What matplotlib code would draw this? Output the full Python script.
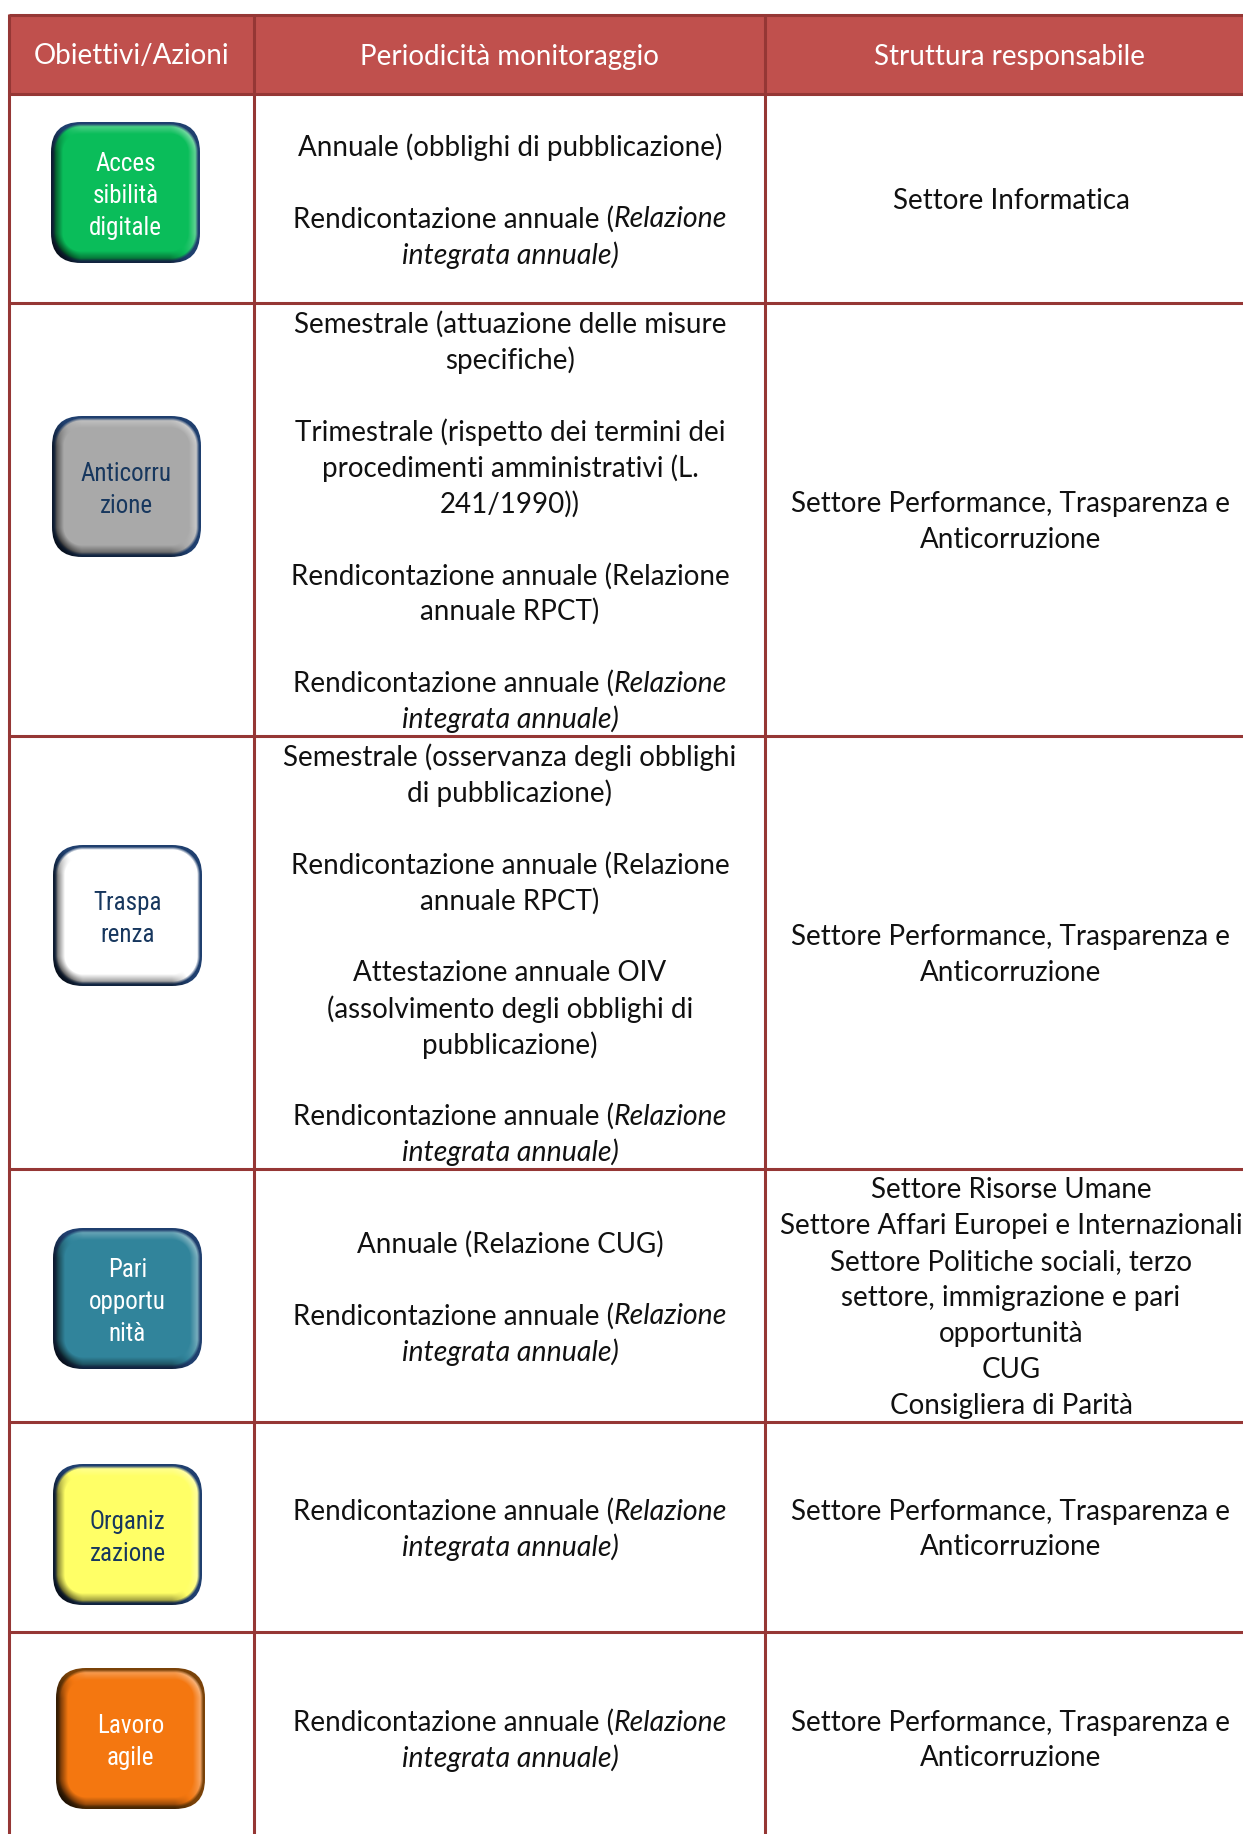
import numpy as np
import matplotlib
matplotlib.use('Agg')
import matplotlib.pyplot as plt
from matplotlib import font_manager
from matplotlib.patches import FancyBboxPatch, Rectangle
from matplotlib.colors import to_rgb

W, H = 1243, 1834
BORDER = '#953735'
HEADER = '#C0504D'
BODY_FONT = 'Lato'
BODY_SIZE = 20.0
ITALIC_SIZE = 20.5

headers = ['Obiettivi/Azioni', 'Periodicità monitoraggio', 'Struttura responsabile']

# *...* marks the italic part of a line
periods = [
    ['Annuale (obblighi di pubblicazione)', '', 'Rendicontazione annuale (*Relazione*', '*integrata annuale)*'],
    ['Semestrale (attuazione delle misure', 'specifiche)', '',
     'Trimestrale (rispetto dei termini dei', 'procedimenti amministrativi (L.', '241/1990))', '',
     'Rendicontazione annuale (Relazione', 'annuale RPCT)', '',
     'Rendicontazione annuale (*Relazione*', '*integrata annuale)*'],
    ['Semestrale (osservanza degli obblighi', 'di pubblicazione)', '',
     'Rendicontazione annuale (Relazione', 'annuale RPCT)', '',
     'Attestazione annuale OIV', '(assolvimento degli obblighi di', 'pubblicazione)', '',
     'Rendicontazione annuale (*Relazione*', '*integrata annuale)*'],
    ['Annuale (Relazione CUG)', '', 'Rendicontazione annuale (*Relazione*', '*integrata annuale)*'],
    ['Rendicontazione annuale (*Relazione*', '*integrata annuale)*'],
    ['Rendicontazione annuale (*Relazione*', '*integrata annuale)*'],
]
owners = [
    ['Settore Informatica'],
    ['Settore Performance, Trasparenza e', 'Anticorruzione'],
    ['Settore Performance, Trasparenza e', 'Anticorruzione'],
    ['Settore Risorse Umane', 'Settore Affari Europei e Internazionali', 'Settore Politiche sociali, terzo',
     'settore, immigrazione e pari', 'opportunità', 'CUG', 'Consigliera di Parità'],
    ['Settore Performance, Trasparenza e', 'Anticorruzione'],
    ['Settore Performance, Trasparenza e', 'Anticorruzione'],
]
button_labels = [['Acces', 'sibilità', 'digitale'], ['Anticorru', 'zione'], ['Traspa', 'renza'],
                 ['Pari', 'opportu', 'nità'], ['Organiz', 'zazione'], ['Lavoro', 'agile']]
button_faces = ['#0ABD5A', '#A9A9A9', '#FFFFFF', '#31849B', '#FFFF66', '#F47710']
button_rims = ['#1F3F6E', '#1F3F6E', '#1F3F6E', '#1F3F6E', '#1F3F6E', '#7A4208']
button_inks = ['#FFFFFF', '#17375E', '#17375E', '#FFFFFF', '#17375E', '#FFFFFF']

col_x = [9.5, 254, 765, W + 10]
row_y = [15, 94, 303, 736, 1169, 1422, 1632, 1844]
button_x = [51, 52, 53, 53, 53, 56]
button_y = [122, 416, 845, 1228, 1464, 1668]
BW, BH, BR = 149, 141, 30
LINE = 35.9

installed = {f.name for f in font_manager.fontManager.ttflist}
if 'Roboto Condensed' in installed:
    BUTTON_FONT, BUTTON_SIZE = 'Roboto Condensed', 18
else:
    BUTTON_FONT, BUTTON_SIZE = 'Liberation Sans', 16

fig = plt.figure(figsize=(W / 100, H / 100), dpi=100)
ax = fig.add_axes([0, 0, 1, 1])
ax.set_xlim(0, W)
ax.set_ylim(H, 0)
ax.axis('off')
renderer = fig.canvas.get_renderer()


def rich_line(cx, cy, line):
    # pieces split at * with odd pieces italic, centred together on cx
    pieces = [(p.replace(' ', '\u00a0'), i % 2 == 1) for i, p in enumerate(line.split('*')) if p]
    kw = [dict(family=BODY_FONT, size=ITALIC_SIZE if it else BODY_SIZE, style='italic' if it else 'normal')
          for p, it in pieces]
    probes = [ax.text(0, 0, p[0], **k) for p, k in zip(pieces, kw)]
    widths = [t.get_window_extent(renderer).width for t in probes]
    for t in probes:
        t.remove()
    x = cx - sum(widths) / 2
    for (p, it), w, k in zip(pieces, widths, kw):
        ax.text(x, cy, p, color='#111111', ha='left', va='center_baseline', **k)
        x += w


def cell_text(cx, top, bottom, lines):
    start = (top + bottom) / 2 - LINE * (len(lines) - 1) / 2
    for i, line in enumerate(lines):
        if line:
            rich_line(cx, start + i * LINE, line)


def button(x, y, face, rim, ink, labels):
    xs, ys = np.meshgrid(np.arange(BW) + .5, np.arange(BH) + .5)
    qx = np.abs(xs - BW / 2) - (BW / 2 - BR)
    qy = np.abs(ys - BH / 2) - (BH / 2 - BR)
    d = BR - np.hypot(np.maximum(qx, 0), np.maximum(qy, 0)) - np.minimum(np.maximum(qx, qy), 0)
    gy, gx = np.gradient(d)
    light = (-gx * .8 + gy * .6)  # negative on the right and bottom
    band = np.clip(1 - d / 12, 0, 1)
    base = np.array(to_rgb(face))
    shade = light * band
    img = np.ones((BH, BW, 3)) * base
    for c in range(3):
        img[..., c] = np.where(shade > 0, base[c] + (1 - base[c]) * shade * .7, base[c] * (1 + shade * 1.0))
    edge = np.clip(1.6 - d / 3, 0, 1)[..., None]
    rim_col = np.array(to_rgb(rim)) * (1 + np.minimum(shade, 0) * .75)[..., None]
    img = img * (1 - edge) + rim_col * edge
    im = ax.imshow(np.clip(img, 0, 1), extent=(x, x + BW, y + BH, y), zorder=3, interpolation='bilinear', aspect='auto')
    clip = FancyBboxPatch((x + BR, y + BR), BW - 2 * BR, BH - 2 * BR, boxstyle=f'round,pad={BR},rounding_size={BR}',
                          transform=ax.transData, fc='none', ec='none')
    ax.add_patch(clip)
    im.set_clip_path(clip)
    start = y + BH / 2 + 1 - 32 * (len(labels) - 1) / 2
    for i, lab in enumerate(labels):
        ax.text(x + BW / 2, start + i * 32, lab, family=BUTTON_FONT, size=BUTTON_SIZE, color=ink,
                ha='center', va='center_baseline', zorder=4)


ax.add_patch(Rectangle((col_x[0], row_y[0]), W + 10, row_y[1] - row_y[0], fc=HEADER, ec='none'))
for y in row_y[:-1]:
    ax.plot([col_x[0], W + 10], [y, y], color=BORDER, lw=2.2, solid_capstyle='butt', zorder=2)
for x in col_x[:-1]:
    ax.plot([x, x], [row_y[0] - 1, H + 5], color=BORDER, lw=2.2, solid_capstyle='butt', zorder=2)

for i, h in enumerate(headers):
    ax.text(((col_x[i] + col_x[i + 1]) / 2 if i < 2 else 1010), 54, h, family=BODY_FONT, size=BODY_SIZE, color='white',
            ha='center', va='center_baseline')

for i in range(6):
    top, bottom = row_y[i + 1], row_y[i + 2]
    cell_text(510, top, bottom, periods[i])
    cell_text(1011, top, bottom, owners[i])
    button(button_x[i], button_y[i], button_faces[i], button_rims[i], button_inks[i], button_labels[i])

ax.set_xlim(0, W)
ax.set_ylim(H, 0)
fig.savefig('out.png', dpi=100)
